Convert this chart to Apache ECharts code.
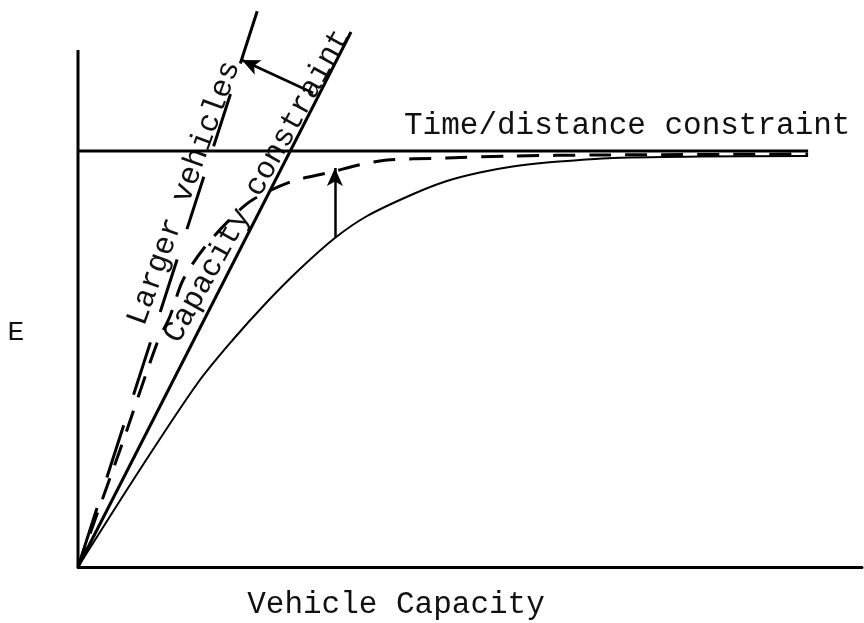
<!DOCTYPE html>
<html>
<head>
<meta charset="utf-8">
<title>Vehicle Capacity</title>
<script src="https://cdn.jsdelivr.net/npm/echarts@6/dist/echarts.min.js"></script>
<style>
  html, body { margin: 0; padding: 0; background: #fff; }
  #container { width: 864px; height: 623px; }
</style>
</head>
<body>
<div id="container"></div>
<script>
// 数据 (横轴: 车辆容量, 纵轴: E, 任意单位)
var axisMax = 112;
var verticalAxis = [[0, 0], [0, 103.4]];
var timeDistance = [[0, 83.2], [104.3, 83.2]];
var capacityLine = [[0, 0], [39, 107]];
var largerVehicles = [[0, 0], [25.7, 111.6]];
var baseCurve = [
  [0, 0], [8.9, 19.6], [17.1, 36.8], [22.1, 45.4], [27, 53], [31.7, 59.6],
  [36.7, 65.8], [41.3, 70.2], [47.9, 74.6], [52.7, 77.2], [57.4, 78.9],
  [62.1, 80.1], [67, 80.9], [71.7, 81.4], [76.4, 81.8], [88.9, 82.1], [104.3, 82.2]
];
var largerCurve = [
  [0, 0], [6, 23.4], [11.3, 44.8], [13.1, 50], [15, 57.4], [18, 63.8],
  [21.9, 69.8], [24.9, 73.4], [30.3, 77], [35.6, 78.8], [43.1, 81.2],
  [52.7, 81.8], [62.1, 82.2], [74.6, 82.4], [104.3, 82.6]
];
var arrowShift = [[33.6, 94.8], [23.4, 101.4]];
var arrowLift = [[36.7, 66], [36.7, 79.8]];

var font = '"Liberation Mono", "Courier New", monospace';

var dom = document.getElementById("container");
var myChart = echarts.init(dom);
var option = {
  animation: false,
  backgroundColor: '#fff',
  grid: { left: 78, right: 2, top: 7, bottom: 56 },
  xAxis: {
    type: 'value', min: 0, max: axisMax,
    axisLine: { show: true, onZero: false, lineStyle: { color: '#000', width: 3 } },
    axisTick: { show: false }, axisLabel: { show: false }, splitLine: { show: false }
  },
  yAxis: {
    type: 'value', min: 0, max: axisMax,
    axisLine: { show: false }, axisTick: { show: false },
    axisLabel: { show: false }, splitLine: { show: false }
  },
  graphic: [
    { type: 'text', left: 404, top: 110, style: { text: 'Time/distance constraint', font: '31px ' + font, fill: '#111' } },
    { type: 'text', x: 396, y: 605, style: { text: 'Vehicle Capacity', font: '31px ' + font, fill: '#111', textAlign: 'center', textVerticalAlign: 'middle' } },
    { type: 'text', x: 16, y: 333, style: { text: 'E', font: '28px ' + font, fill: '#111', textAlign: 'center', textVerticalAlign: 'middle' } },
    { type: 'text', x: 184, y: 193, rotation: 70 * Math.PI / 180, style: { text: 'Larger vehicles', font: '31px ' + font, fill: '#111', textAlign: 'center', textVerticalAlign: 'middle' } },
    { type: 'text', x: 257, y: 186, rotation: 61 * Math.PI / 180, style: { text: 'Capacity constraint', font: '31px ' + font, fill: '#111', textAlign: 'center', textVerticalAlign: 'middle' } }
  ],
  series: [
    {
      type: 'line', data: verticalAxis, symbol: 'none', clip: false,
      lineStyle: { color: '#000', width: 3 }
    },
    {
      type: 'line', data: timeDistance, symbol: 'none', clip: false,
      lineStyle: { color: '#000', width: 3 }
    },
    {
      type: 'line', data: capacityLine, symbol: 'none', clip: false,
      lineStyle: { color: '#000', width: 3 }
    },
    {
      type: 'line', data: largerVehicles, symbol: 'none', clip: false,
      lineStyle: { color: '#000', width: 3, type: [55, 32], dashOffset: 80 }
    },
    {
      type: 'line', data: baseCurve, symbol: 'none', smooth: 0.3, clip: false,
      lineStyle: { color: '#000', width: 2 }
    },
    {
      type: 'line', data: largerCurve, symbol: 'none', smooth: 0.3, clip: false,
      lineStyle: { color: '#000', width: 3, type: [22, 14] }
    },
    {
      type: 'line', data: [], symbol: 'none',
      markLine: {
        silent: true,
        symbol: ['none', 'arrow'],
        symbolSize: [12, 18],
        label: { show: false },
        lineStyle: { color: '#000', width: 2.5, type: 'solid' },
        data: [
          [{ coord: arrowShift[0] }, { coord: arrowShift[1] }],
          [{ coord: arrowLift[0] }, { coord: arrowLift[1] }]
        ]
      }
    }
  ]
};
if (option && typeof option === "object") {
  myChart.setOption(option, true);
}
</script>
</body>
</html>
